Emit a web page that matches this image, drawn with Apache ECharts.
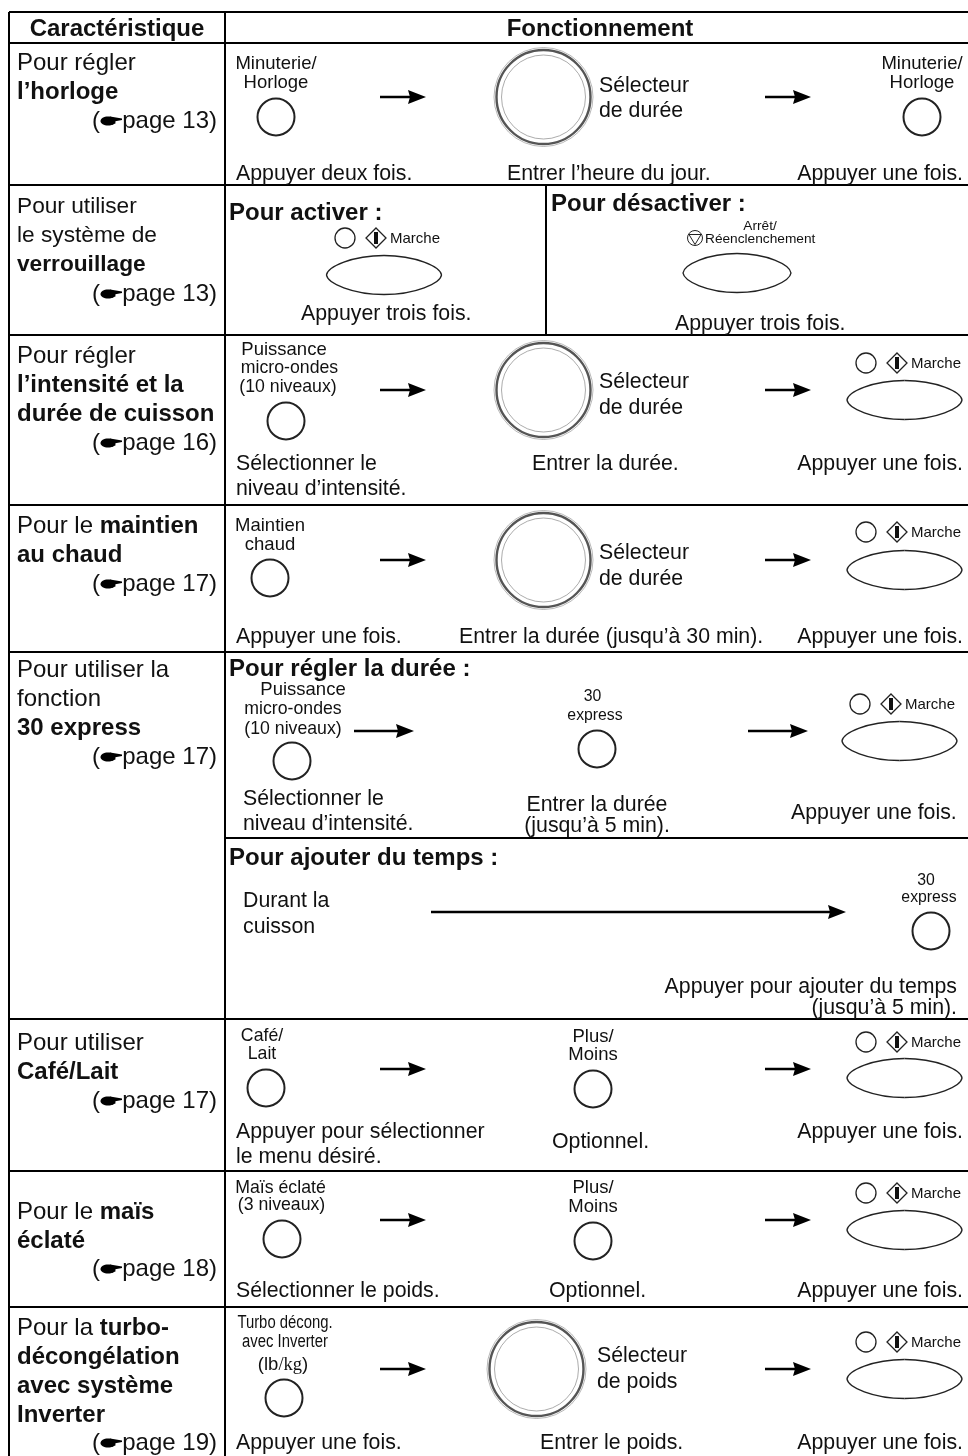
<!DOCTYPE html>
<html>
<head>
<meta charset="utf-8">
<style>
  html, body { margin: 0; padding: 0; background: #fff; }
  #main { width: 968px; height: 1456px; }
</style>
<script src="https://cdn.jsdelivr.net/npm/echarts@6/dist/echarts.min.js"></script>
</head>
<body>
<div id="main"></div>
<script>
var tableRules = [
  [9, 12, 968, 12], [9, 43, 968, 43], [9, 185, 968, 185], [9, 335, 968, 335],
  [9, 505, 968, 505], [9, 652, 968, 652], [225, 838, 968, 838], [9, 1019, 968, 1019],
  [9, 1171, 968, 1171], [9, 1307, 968, 1307],
  [9, 12, 9, 1456], [225, 12, 225, 1456], [546, 185, 546, 335]
]
var arrows = [
  [380, 426, 97], [765, 811, 97], [380, 426, 390], [765, 811, 390],
  [380, 426, 560], [765, 811, 560], [354, 414, 731], [748, 808, 731], [431, 846, 912],
  [380, 426, 1069], [765, 811, 1069], [380, 426, 1220], [765, 811, 1220],
  [380, 426, 1369], [765, 811, 1369]
]
var buttons = [
  [276, 117], [922, 117], [286, 421], [270, 578], [292, 761], [597, 749], [931, 931],
  [266, 1088], [593, 1089], [282, 1239], [593, 1241], [284, 1398]
]
var lamps = [
  [345, 238], [866, 363], [866, 532], [860, 704], [866, 1042], [866, 1193], [866, 1342]
]
var diamonds = [
  [376, 238], [897, 363], [897, 532], [891, 704], [897, 1042], [897, 1193], [897, 1342]
]
var stopIcons = [[695, 238]]
var ovals = [
  [384, 275, 57.5], [737, 273, 54], [904.5, 400, 57.5], [904.5, 570, 57.5], [899.5, 741, 57.5],
  [904.5, 1078, 57.5], [904.5, 1230, 57.5], [904.5, 1379, 57.5]
]
var dials = [[543.5, 97], [543.5, 390], [543.5, 560], [536.5, 1369]]
var hands = [[111, 121], [111, 294], [111, 443], [111, 584], [111, 757], [111, 1101], [111, 1269], [111, 1443]]

var headerLabels = [
  [117, 29, 'Caractéristique', 'center'],
  [600, 29, 'Fonctionnement', 'center']
]
var pageLabels = [
  [217, 121, 'page 13)'], [217, 294, 'page 13)'], [217, 443, 'page 16)'], [217, 584, 'page 17)'],
  [217, 757, 'page 17)'], [217, 1101, 'page 17)'], [217, 1269, 'page 18)'], [217, 1443, 'page 19)']
]
var featureLabels = [
  [17, 63, 'Pour régler'], [17, 92, '{b|l’horloge}'],
  [17, 356, 'Pour régler'], [17, 385, '{b|l’intensité et la}'], [17, 414, '{b|durée de cuisson}'],
  [17, 526, 'Pour le {b|maintien}'], [17, 555, '{b|au chaud}'],
  [17, 670, 'Pour utiliser la'], [17, 699, 'fonction'], [17, 728, '{b|30 express}'],
  [17, 1043, 'Pour utiliser'], [17, 1072, '{b|Café/Lait}'],
  [17, 1212, 'Pour le {b|maïs}'], [17, 1241, '{b|éclaté}'],
  [17, 1328, 'Pour la {b|turbo-}'], [17, 1357, '{b|décongélation}'], [17, 1386, '{b|avec système}'], [17, 1415, '{b|Inverter}']
]
var lockLabels = [
  [17, 207, 'Pour utiliser'], [17, 236, 'le système de'], [17, 265, '{b|verrouillage}']
]
var modeLabels = [
  [229, 213, 'Pour activer :'], [551, 204, 'Pour désactiver :'],
  [229, 669, 'Pour régler la durée :'], [229, 858, 'Pour ajouter du temps :']
]
var bodyLabels = [
  [236, 174, 'Appuyer deux fois.'], [507, 174, 'Entrer l’heure du jour.'], [963, 174, 'Appuyer une fois.', 'right'],
  [599, 86, 'Sélecteur'], [599, 111, 'de durée'],
  [301, 314, 'Appuyer trois fois.'], [675, 324, 'Appuyer trois fois.'],
  [599, 382, 'Sélecteur'], [599, 408, 'de durée'],
  [236, 464, 'Sélectionner le'], [236, 489, 'niveau d’intensité.'], [532, 464, 'Entrer la durée.'], [963, 464, 'Appuyer une fois.', 'right'],
  [599, 553, 'Sélecteur'], [599, 579, 'de durée'],
  [236, 637, 'Appuyer une fois.'], [459, 637, 'Entrer la durée (jusqu’à 30 min).'], [963, 637, 'Appuyer une fois.', 'right'],
  [243, 799, 'Sélectionner le'], [243, 824, 'niveau d’intensité.'],
  [597, 805, 'Entrer la durée', 'center'], [597, 826, '(jusqu’à 5 min).', 'center'], [791, 813, 'Appuyer une fois.'],
  [243, 901, 'Durant la'], [243, 927, 'cuisson'],
  [957, 987, 'Appuyer pour ajouter du temps', 'right'], [957, 1008, '(jusqu’à 5 min).', 'right'],
  [236, 1132, 'Appuyer pour sélectionner'], [236, 1157, 'le menu désiré.'], [552, 1142, 'Optionnel.'], [963, 1132, 'Appuyer une fois.', 'right'],
  [236, 1291, 'Sélectionner le poids.'], [549, 1291, 'Optionnel.'], [963, 1291, 'Appuyer une fois.', 'right'],
  [597, 1356, 'Sélecteur'], [597, 1382, 'de poids'],
  [236, 1443, 'Appuyer une fois.'], [540, 1443, 'Entrer le poids.'], [963, 1443, 'Appuyer une fois.', 'right']
]
var buttonLabels = [
  [276, 64, 'Minuterie/', 'center'], [276, 83, 'Horloge', 'center'],
  [922, 64, 'Minuterie/', 'center'], [922, 83, 'Horloge', 'center'],
  [284, 350, 'Puissance', 'center'],
  [270, 526, 'Maintien', 'center'], [270, 545, 'chaud', 'center'],
  [303, 690, 'Puissance', 'center'],
  [593, 1037, 'Plus/', 'center'], [593, 1055, 'Moins', 'center'],
  [593, 1188, 'Plus/', 'center'], [593, 1207, 'Moins', 'center'],
  [283, 1365, '(lb{s|/kg})', 'center']
]
var narrowButtonLabels = [
  [289.5, 368, 'micro-ondes', 'center'], [288, 387, '(10 niveaux)', 'center'],
  [293, 709, 'micro-ondes', 'center'], [293, 729, '(10 niveaux)', 'center'],
  [262, 1036, 'Café/', 'center'], [262, 1054, 'Lait', 'center'],
  [280.5, 1188, 'Maïs éclaté', 'center'], [281.5, 1205, '(3 niveaux)', 'center']
]
var expressLabels = [
  [592.5, 697, '30', 'center'], [595, 716, 'express', 'center'],
  [926, 881, '30', 'center'], [929, 898, 'express', 'center']
]
var marcheLabels = [
  [390, 239, 'Marche'], [911, 364, 'Marche'], [911, 533, 'Marche'], [905, 705, 'Marche'],
  [911, 1043, 'Marche'], [911, 1194, 'Marche'], [911, 1343, 'Marche']
]
var stopLabels = [[760, 226, 'Arrêt/', 'center'], [705, 239, 'Réenclenchement']]
var turboLabels = [[285, 1323, 'Turbo décong.', 'center'], [285, 1342, 'avec Inverter', 'center']]

var FONT = '"Liberation Sans", Arial, sans-serif'
var INK = '#111'

function shapeSeries (name, rows, draw) {
  return {
    type: 'custom',
    name: name,
    coordinateSystem: 'cartesian2d',
    clip: false,
    silent: true,
    animation: false,
    encode: { x: 0, y: 1 },
    data: rows.map(function (r) { return [r[0], r[1]] }),
    renderItem: function (params, api) {
      var p = api.coord([api.value(0), api.value(1)])
      return draw(p, rows[params.dataIndex], api)
    }
  }
}

function textSeries (name, rows, size, weight, scaleX) {
  return shapeSeries(name, rows, function (p, r) {
    return {
      type: 'text',
      x: p[0],
      y: p[1],
      scaleX: scaleX || 1,
      style: {
        text: r[2],
        fontFamily: FONT,
        fontSize: size,
        fontWeight: weight || 'normal',
        fill: INK,
        align: r[3] || 'left',
        verticalAlign: 'middle',
        rich: {
          b: { fontFamily: FONT, fontSize: size, fontWeight: 'bold', fill: INK },
          s: { fontFamily: '"Liberation Serif", serif', fontSize: size, fill: INK }
        }
      }
    }
  })
}

function ring (cx, cy, r, color, width) {
  return { type: 'circle', shape: { cx: cx, cy: cy, r: r }, style: { fill: 'none', stroke: color, lineWidth: width } }
}

// the oval buttons are a bit pointed at the ends, so four curves and not an ellipse
function ovalCurve (x1, y1, c1x, c1y, c2x, c2y, x2, y2) {
  return {
    type: 'bezierCurve',
    shape: { x1: x1, y1: y1, cpx1: c1x, cpy1: c1y, cpx2: c2x, cpy2: c2y, x2: x2, y2: y2 },
    style: { fill: 'none', stroke: '#222', lineWidth: 1.4 }
  }
}

var series = [
  shapeSeries('rules', tableRules, function (p, r, api) {
    var q = api.coord([r[2], r[3]])
    return { type: 'line', shape: { x1: p[0], y1: p[1], x2: q[0], y2: q[1] }, style: { stroke: '#000', lineWidth: 2 } }
  }),
  shapeSeries('arrows', arrows.map(function (a) { return [a[0], a[2], a[1]] }), function (p, r, api) {
    var q = api.coord([r[2], r[1]])
    return {
      type: 'group',
      children: [
        { type: 'line', shape: { x1: p[0], y1: p[1], x2: q[0] - 10, y2: p[1] }, style: { stroke: '#000', lineWidth: 2.3 } },
        { type: 'polygon', shape: { points: [[q[0] - 18, p[1] - 7], [q[0], p[1]], [q[0] - 18, p[1] + 7], [q[0] - 16, p[1]]] }, style: { fill: '#000' } }
      ]
    }
  }),
  shapeSeries('buttons', buttons, function (p) {
    return ring(p[0], p[1], 18.5, '#222', 2)
  }),
  shapeSeries('lamps', lamps, function (p) {
    return ring(p[0], p[1], 10, '#222', 1.3)
  }),
  shapeSeries('diamonds', diamonds, function (p) {
    return {
      type: 'group',
      children: [
        { type: 'polygon', shape: { points: [[p[0], p[1] - 10], [p[0] + 10, p[1]], [p[0], p[1] + 10], [p[0] - 10, p[1]]] }, style: { fill: '#fff', stroke: '#222', lineWidth: 1.3 } },
        { type: 'rect', shape: { x: p[0] - 2, y: p[1] - 6, width: 4, height: 12 }, style: { fill: '#111' } }
      ]
    }
  }),
  shapeSeries('stop', stopIcons, function (p) {
    return {
      type: 'group',
      children: [
        ring(p[0], p[1], 7.5, '#222', 1),
        { type: 'polygon', shape: { points: [[p[0] - 6, p[1] - 3.5], [p[0] + 6, p[1] - 3.5], [p[0], p[1] + 6.5]] }, style: { fill: 'none', stroke: '#222', lineWidth: 1 } }
      ]
    }
  }),
  shapeSeries('ovals', ovals, function (p, r) {
    var x = p[0]
    var y = p[1]
    var a = r[2]
    var h = 19.5
    return {
      type: 'group',
      children: [
        ovalCurve(x - a, y, x - a * 0.98, y - h * 0.42, x - a * 0.55, y - h, x, y - h),
        ovalCurve(x, y - h, x + a * 0.55, y - h, x + a * 0.98, y - h * 0.42, x + a, y),
        ovalCurve(x + a, y, x + a * 0.98, y + h * 0.42, x + a * 0.55, y + h, x, y + h),
        ovalCurve(x, y + h, x - a * 0.55, y + h, x - a * 0.98, y + h * 0.42, x - a, y)
      ]
    }
  }),
  shapeSeries('dials', dials, function (p) {
    return {
      type: 'group',
      children: [
        ring(p[0], p[1], 49.5, '#999', 0.7),
        ring(p[0], p[1], 47, '#555', 2.4),
        ring(p[0], p[1], 42, '#888', 0.7)
      ]
    }
  }),
  shapeSeries('hands', hands, function (p) {
    return {
      type: 'group',
      children: [
        { type: 'ellipse', shape: { cx: p[0] - 3, cy: p[1], rx: 7.5, ry: 4.6 }, style: { fill: '#000' } },
        { type: 'polygon', shape: { points: [[p[0] - 1, p[1] - 4.5], [p[0] + 11, p[1] - 2.6], [p[0] + 11, p[1] - 1], [p[0] + 3, p[1] + 0.5], [p[0] + 5, p[1] + 2], [p[0] + 1, p[1] + 4]] }, style: { fill: '#000' } }
      ]
    }
  }),
  textSeries('headers', headerLabels, 24, 'bold'),
  textSeries('pages', pageLabels.map(function (r) { return [r[0], r[1], r[2], 'right'] }), 24),
  textSeries('parens', pageLabels.map(function (r) { return [92, r[1], '('] }), 24),
  textSeries('features', featureLabels, 24),
  textSeries('lock', lockLabels, 22.7),
  textSeries('modes', modeLabels, 24, 'bold'),
  textSeries('body', bodyLabels, 21.3),
  textSeries('button names', buttonLabels, 18.5),
  textSeries('narrow button names', narrowButtonLabels, 17.7),
  textSeries('express names', expressLabels, 15.8),
  textSeries('marche', marcheLabels, 15),
  textSeries('stop names', stopLabels, 13.7),
  textSeries('turbo names', turboLabels, 18, 'normal', 0.825)
]

var chart = echarts.init(document.getElementById('main'), null, { renderer: 'canvas' })
chart.setOption({
  animation: false,
  backgroundColor: '#fff',
  grid: { left: 0, right: 0, top: 0, bottom: 0 },
  xAxis: { type: 'value', min: 0, max: 968, show: false },
  yAxis: { type: 'value', min: 0, max: 1456, inverse: true, show: false },
  series: series
})
</script>
</body>
</html>
